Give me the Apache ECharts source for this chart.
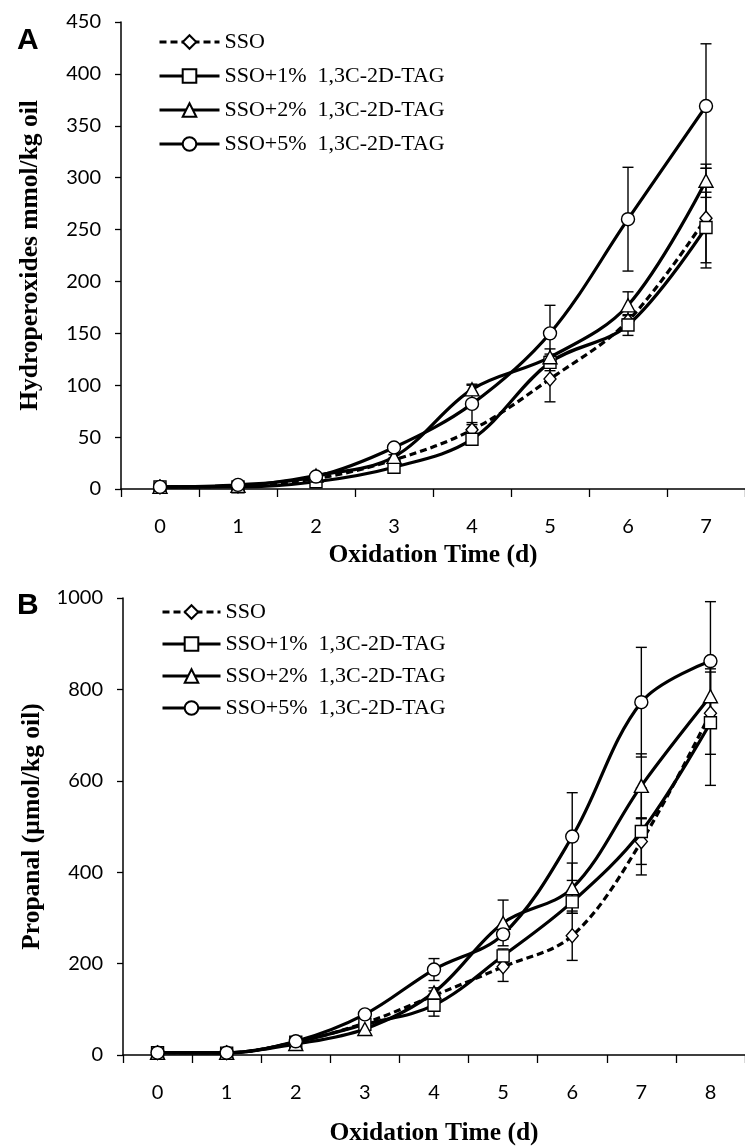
<!DOCTYPE html>
<html><head><meta charset="utf-8">
<script src="https://cdn.jsdelivr.net/npm/echarts@6/dist/echarts.min.js"></script>
<style>html,body{margin:0;padding:0;background:#fff}#c{width:745px;height:1147px}</style>
</head><body><div id="c"></div>
<script>
const daysA = ['0','1','2','3','4','5','6','7'];
const daysB = ['0','1','2','3','4','5','6','7','8'];
const seriesNames = ['SSO','SSO+1%  1,3C-2D-TAG','SSO+2%  1,3C-2D-TAG','SSO+5%  1,3C-2D-TAG'];
// Panel A: hydroperoxides (mmol/kg oil)
const A_sso = [2, 3, 10, 28, 57, 106, 162, 261];
const A_sso_err = [0, 0, 1, 2, 5, 22, 5, 48];
const A_p1 = [2, 2, 7, 21, 48, 122, 158, 252];
const A_p1_err = [0, 0, 1, 2, 4, 8, 10, 34];
const A_p2 = [2, 3, 13, 31, 96, 127, 177, 297];
const A_p2_err = [0, 0, 1, 2, 5, 8, 13, 16];
const A_p5 = [2, 4, 12, 40, 82, 150, 260, 369];
const A_p5_err = [0, 0, 1, 3, 18, 27, 50, 60];
// Panel B: propanal (umol/kg oil)
const B_sso = [5, 5, 28, 70, 130, 193, 261, 467, 748];
const B_sso_err = [0, 0, 2, 3, 10, 32, 54, 50, 90];
const B_p1 = [5, 4, 28, 67, 109, 217, 335, 489, 727];
const B_p1_err = [0, 0, 2, 3, 24, 15, 25, 95, 137];
const B_p2 = [5, 5, 24, 57, 137, 289, 365, 589, 785];
const B_p2_err = [0, 0, 2, 3, 10, 50, 55, 70, 60];
const B_p5 = [5, 5, 30, 89, 187, 264, 478, 772, 862];
const B_p5_err = [0, 0, 2, 3, 24, 10, 96, 120, 130];

const symbols = ['diamond','rect','triangle','circle'];
const symSizes = [[12,14],[12,12],[14,13],[13,13]];
const serif = '"Liberation Serif", "DejaVu Serif", serif';
const sans = 'Lato, "Open Sans", sans-serif';

function lineSeries(name, data, idx, g) {
  return {
    type: 'line', name: name, data: data, xAxisIndex: g, yAxisIndex: g,
    smooth: 0.35, symbol: symbols[idx], symbolSize: symSizes[idx], showAllSymbol: true,
    lineStyle: {color: '#000', width: 3.2, type: idx === 0 ? [7, 4] : 'solid'},
    itemStyle: {color: '#fff', borderColor: '#000', borderWidth: 1.4},
    z: 3, animation: false, emphasis: {disabled: true}
  };
}
function errSeries(vals, errs, g) {
  const d = vals.map((v, i) => [i, v, errs[i]]);
  return {
    type: 'custom', xAxisIndex: g, yAxisIndex: g, data: d, z: 2, silent: true, animation: false,
    renderItem: function (params, api) {
      const i = api.value(0), v = api.value(1), e = api.value(2);
      if (!e) return null;
      const top = api.coord([i, v + e]);
      const bot = api.coord([i, v - e]);
      const w = 5.5;
      const st = {stroke: '#000', lineWidth: 1.4};
      return {type: 'group', children: [
        {type: 'line', shape: {x1: top[0], y1: top[1], x2: bot[0], y2: bot[1]}, style: st},
        {type: 'line', shape: {x1: top[0]-w, y1: top[1], x2: top[0]+w, y2: top[1]}, style: st},
        {type: 'line', shape: {x1: bot[0]-w, y1: bot[1], x2: bot[0]+w, y2: bot[1]}, style: st}
      ]};
    }
  };
}
const Avals = [A_sso, A_p1, A_p2, A_p5], Aerrs = [A_sso_err, A_p1_err, A_p2_err, A_p5_err];
const Bvals = [B_sso, B_p1, B_p2, B_p5], Berrs = [B_sso_err, B_p1_err, B_p2_err, B_p5_err];
const series = [];
Avals.forEach((v, k) => series.push(errSeries(v, Aerrs[k], 0)));
Bvals.forEach((v, k) => series.push(errSeries(v, Berrs[k], 1)));
Avals.forEach((v, k) => series.push(lineSeries(seriesNames[k], v, k, 0)));
Bvals.forEach((v, k) => { const s = lineSeries(seriesNames[k], v, k, 1); s.name = seriesNames[k] + ' '; series.push(s); });

function xAx(g, cats) {
  return {
    type: 'category', gridIndex: g, data: cats, boundaryGap: true,
    axisLine: {lineStyle: {color: '#000', width: 1.5}},
    axisTick: {show: true, inside: false, length: 8, lineStyle: {color: '#000', width: 1.3}},
    axisLabel: {color: '#000', fontFamily: sans, fontSize: 20, margin: 28},
    name: 'Oxidation Time (d)', nameLocation: 'middle', nameGap: g === 0 ? 53 : 65,
    nameTextStyle: {fontFamily: serif, fontWeight: 'bold', fontSize: 25.5, color: '#000'},
    splitLine: {show: false}
  };
}
function yAx(g, max, interval, name, gap) {
  return {
    type: 'value', gridIndex: g, min: 0, max: max, interval: interval,
    axisLine: {show: true, lineStyle: {color: '#000', width: 1.5}},
    axisTick: {show: true, length: 6, lineStyle: {color: '#000', width: 1.3}},
    axisLabel: {color: '#000', fontFamily: sans, fontSize: 20, margin: 20, formatter: v => String(v)},
    splitLine: {show: false},
    name: name, nameLocation: 'middle', nameGap: gap, nameRotate: 90,
    nameTextStyle: {fontFamily: serif, fontWeight: 'bold', fontSize: 25.5, color: '#000'}
  };
}
const legendText = {fontFamily: serif, fontSize: 22, color: '#000'};
const legendLine = {width: 3};
const option = {
  backgroundColor: '#fff',
  animation: false,
  title: [
    {text: 'A', left: 12, top: 21, textStyle: {fontFamily: 'Liberation Sans, Arial, sans-serif', fontWeight: 'bold', fontSize: 30, color: '#000'}},
    {text: 'B', left: 12, top: 586, textStyle: {fontFamily: 'Liberation Sans, Arial, sans-serif', fontWeight: 'bold', fontSize: 30, color: '#000'}}
  ],
  grid: [
    {left: 121, top: 22, height: 467, right: -10, containLabel: false},
    {left: 123, top: 598, height: 460, right: -4, containLabel: false}
  ],
  xAxis: [xAx(0, daysA), xAx(1, daysB)],
  yAxis: [yAx(0, 450, 50, 'Hydroperoxides mmol/kg oil', 78), yAx(1, 1000, 200, 'Propanal (\u00b5mol/kg oil)', 78)],
  legend: [
    {data: seriesNames, orient: 'vertical', left: 153, top: 26, itemWidth: 60, itemHeight: 17, itemGap: 12,
     textStyle: legendText, selectedMode: false, lineStyle: legendLine},
    {data: seriesNames.map(n => n + ' '), orient: 'vertical', left: 156, top: 596, itemWidth: 58, itemHeight: 17, itemGap: 10,
     textStyle: legendText, selectedMode: false, lineStyle: legendLine}
  ],
  series: series
};
const chart = echarts.init(document.getElementById('c'), null, {renderer: 'canvas'});
chart.setOption(option);
</script></body></html>
